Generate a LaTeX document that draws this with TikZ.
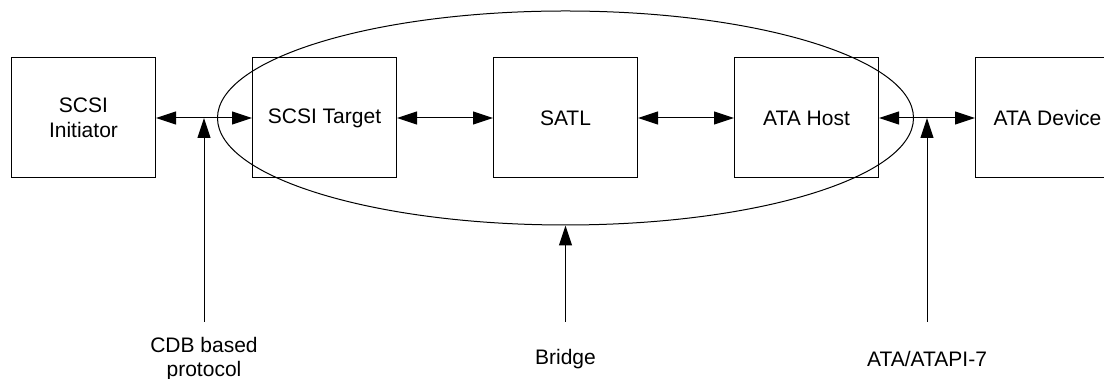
\documentclass[tikz,border=0pt]{standalone}
\usepackage{fontspec}
\setmainfont{Liberation Sans}
\usepackage{tikz}
\usetikzlibrary{arrows.meta,positioning,shapes.geometric,calc}
\tikzstyle{every layer} = []
\tikzstyle{layer} = [rectangle, draw, black, line width=0.5pt,
minimum width=72pt, minimum height=60pt, align=center,
font=\fontsize{10.5}{12.5}\selectfont, every layer]
\tikzstyle{link} = [draw, line width=0.5pt, {Triangle[length=10pt,width=6.5pt]}-{Triangle[length=10pt,width=6.5pt]}]
\tikzstyle{pointer} = [draw, line width=0.5pt, -{Triangle[length=10pt,width=6.5pt]}]
\tikzstyle{caption} = [align=center, font=\fontsize{10.5}{12}\selectfont]

\begin{document}
\begin{tikzpicture}[node distance=48pt]
	\path[use as bounding box, clip] (0,0) rectangle (552pt,189.5pt);

	\node[layer] (init) at (41.75pt,130.5pt) {SCSI\\Initiator};
	\node[layer] (target) [right=of init] {SCSI Target};
	\node[layer] (satl) [right=of target] {SATL};
	\node[layer] (host) [right=of satl] {ATA Host};
	\node[layer] (device) [right=of host] {ATA Device};

	\node[ellipse, draw, line width=0.5pt, inner sep=0pt,
		minimum width=348pt, minimum height=107pt] (bridge) at (satl) {};

	\draw[link] (init) -- (target);
	\draw[link] (target) -- (satl);
	\draw[link] (satl) -- (host);
	\draw[link] (host) -- (device);

	% pointers from the captions
	\coordinate (base) at (0,28.5pt);
	\coordinate (cdbjoin) at ($(init.east)!0.5!(target.west)$);
	\coordinate (atajoin) at ($(host.east)!0.5!(device.west)$);
	\coordinate (cdbfoot) at (cdbjoin |- base);
	\coordinate (bridgefoot) at (bridge.south |- base);
	\coordinate (atafoot) at (atajoin |- base);

	\draw[pointer] (cdbfoot) -- (cdbjoin);
	\draw[pointer] (bridgefoot) -- (bridge.south);
	\draw[pointer] (atafoot) -- (atajoin);

	\node[caption] (cdb) at ($(cdbfoot)+(0,-18.5pt)$) {CDB based\\protocol};
	\node[caption] (bridgetext) at ($(bridgefoot)+(0,-18.5pt)$) {Bridge};
	\node[caption] (ata) at ($(atafoot)+(0,-18.5pt)$) {ATA/ATAPI-7};
\end{tikzpicture}
\end{document}
